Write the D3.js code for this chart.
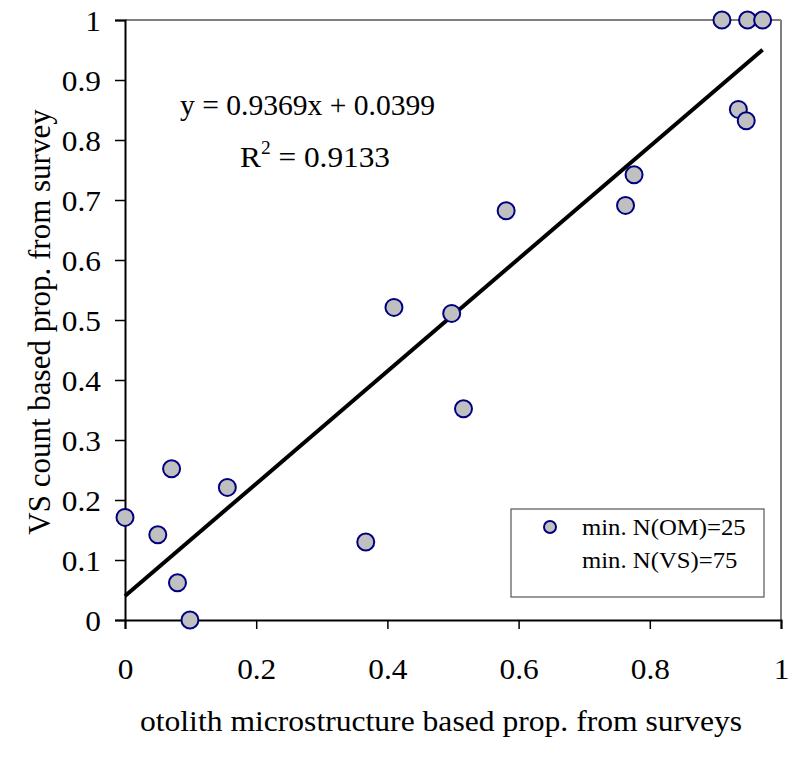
<!DOCTYPE html>
<html><head><meta charset="utf-8">
<script src="https://cdn.jsdelivr.net/npm/d3@7"></script>
<style>body{margin:0;background:#fff}text{font-family:"Liberation Serif","Times New Roman",serif;fill:#000}</style>
</head><body><svg id="c" width="789" height="764"></svg>
<script>
const xValues = [0, 0.050, 0.071, 0.080, 0.099, 0.156, 0.367, 0.410, 0.498, 0.516, 0.581, 0.763, 0.776, 0.910, 0.935, 0.947, 0.949, 0.972];
const yValues = [0.171, 0.142, 0.252, 0.062, 0.0, 0.221, 0.130, 0.521, 0.511, 0.352, 0.682, 0.691, 0.742, 1.0, 0.851, 0.832, 1.0, 1.0];
const fitSlope = 0.9369, fitIntercept = 0.0399;
const fitRange = [0, 0.972];
const xTicks = [0, 0.2, 0.4, 0.6, 0.8, 1];
const yTicks = [0, 0.1, 0.2, 0.3, 0.4, 0.5, 0.6, 0.7, 0.8, 0.9, 1];
const legendLines = ["min. N(OM)=25", "min. N(VS)=75"];

const svg = d3.select("#c");
const L = 125, R = 781, T = 20, B = 620;
const SX = 1.08;
const x = d3.scaleLinear().domain([0, 1]).range([L, R]);
const y = d3.scaleLinear().domain([0, 1]).range([B, T]);

// frame top/right
svg.append("line").attr("x1", L).attr("x2", R).attr("y1", T).attr("y2", T).attr("stroke", "#000").attr("stroke-width", 1);
svg.append("line").attr("x1", R).attr("x2", R).attr("y1", T).attr("y2", B).attr("stroke", "#808080").attr("stroke-width", 2);

const fmt = d => d === 0 || d === 1 ? String(d) : d3.format(".1f")(d);
const gx = svg.append("g").attr("transform", `translate(0,${B})`)
  .call(d3.axisBottom(x).tickValues(xTicks).tickFormat(fmt).tickSize(9).tickPadding(29));
const gy = svg.append("g").attr("transform", `translate(${L},0)`)
  .call(d3.axisLeft(y).tickValues(yTicks).tickFormat(fmt).tickSize(10).tickPadding(14));
[gx, gy].forEach(g => {
  g.select(".domain").attr("stroke", "#000").attr("stroke-width", 2);
  g.selectAll(".tick line").attr("stroke", "#000").attr("stroke-width", 1.5);
  g.selectAll(".tick text").attr("font-size", 29).attr("font-family", "Liberation Serif");
});
gx.selectAll(".tick text").attr("transform", `scale(${SX},1)`);
gy.selectAll(".tick text").attr("dy", "0.35em").attr("x", 0).attr("transform", `translate(-24,0) scale(${SX},1)`);

// legend box
const lg = svg.append("g");
lg.append("rect").attr("x", 511).attr("y", 509).attr("width", 253).attr("height", 88)
  .attr("fill", "#fff").attr("stroke", "#555").attr("stroke-width", 1.2);
lg.append("circle").attr("cx", 550).attr("cy", 527).attr("r", 6).attr("fill", "#c0c0c0").attr("stroke", "#000080").attr("stroke-width", 2);
legendLines.forEach((t, i) => lg.append("text").attr("transform", `translate(582,${535 + i * 33}) scale(1.03,1)`).attr("font-size", 24).text(t));

// regression line
svg.append("line")
  .attr("x1", x(fitRange[0])).attr("y1", y(fitSlope * fitRange[0] + fitIntercept))
  .attr("x2", x(fitRange[1])).attr("y2", y(fitSlope * fitRange[1] + fitIntercept))
  .attr("stroke", "#000").attr("stroke-width", 4);

// points
svg.append("g").selectAll("circle").data(xValues.map((v, i) => [v, yValues[i]])).join("circle")
  .attr("cx", d => x(d[0])).attr("cy", d => y(d[1])).attr("r", 8.5)
  .attr("fill", "#c0c0c0").attr("stroke", "#000080").attr("stroke-width", 2);

// equation
svg.append("text").attr("transform", "translate(180,115) scale(1.02,1)").attr("font-size", 29)
  .text(`y = ${fitSlope}x + ${fitIntercept}`);
const r2 = svg.append("text").attr("transform", `translate(240,167) scale(${SX},1)`).attr("font-size", 29);
r2.append("tspan").text("R");
r2.append("tspan").attr("font-size", 18).attr("dy", -13).text("2");
r2.append("tspan").attr("dy", 13).text(" = 0.9133");

// axis titles
svg.append("text").attr("transform", `translate(441,731) scale(1.09,1)`).attr("text-anchor", "middle").attr("font-size", 29)
  .text("otolith microstructure based prop. from surveys");
svg.append("text").attr("transform", "translate(50,322) rotate(-90)").attr("text-anchor", "middle").attr("font-size", 31)
  .text("VS count based prop. from survey");
</script></body></html>
